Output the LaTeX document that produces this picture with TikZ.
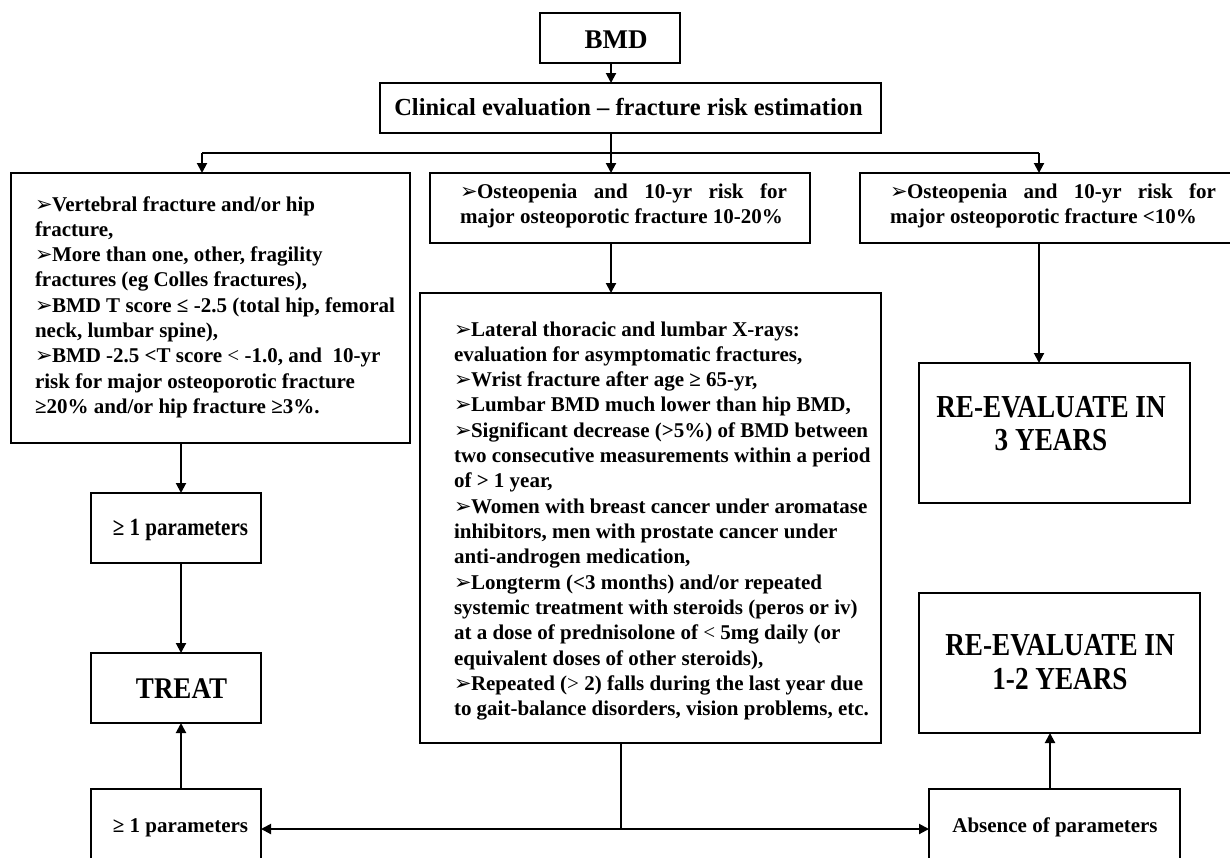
\documentclass[tikz,border=0pt]{standalone}
\usepackage{fontspec}
\setmainfont{Liberation Serif}
\newfontfamily\dejavu{DejaVu Sans}
\newfontfamily\condA[FakeStretch=0.85]{Liberation Serif}
\newfontfamily\condB[FakeStretch=0.9]{Liberation Serif}
\usetikzlibrary{arrows.meta}
\newcommand\bul{\makebox[17pt][l]{\raisebox{0pt}{\dejavu\fontsize{21}{21}\selectfont ➢}}}
\newcommand\boxnode[5]{\node[box, minimum width={(#4-#2)*1pt}, minimum height={(#5-#3)*1pt}] (#1) at ({(#2+#4)/2},{(#3+#5)/2}) {};}
\begin{document}
\begin{tikzpicture}[x=1pt,y=-1pt,
  box/.style={draw, line width=2.5pt, inner sep=0pt, outer sep=0pt},
  txt/.style={inner sep=0pt, outer sep=0pt, font=\bfseries\fontsize{21}{25.33}\selectfont},
  ln/.style={line width=2pt},
  conn/.style={line width=2pt, -{Triangle[length=10pt,width=10pt]}}]
\fill[white] (0,0) rectangle (1230,857);
\useasboundingbox (0,0) rectangle (1230,857);

% boxes
\boxnode{bmd}{540}{13}{680}{63}
\boxnode{clin}{380}{83}{881}{133}
\boxnode{lbox}{11}{173}{410}{443}
\boxnode{mtop}{430}{173}{810}{243}
\boxnode{rtop}{860}{173}{1245}{243}
\boxnode{big}{420}{293}{881}{743}
\boxnode{p1}{91}{493}{261}{563}
\boxnode{treat}{91}{653}{261}{723}
\boxnode{p2}{91}{789}{261}{880}
\boxnode{re3}{919}{363}{1190}{503}
\boxnode{re12}{919}{593}{1200}{733}
\boxnode{abs}{929}{789}{1180}{880}

% texts
\node[txt, anchor=base, font=\bfseries\fontsize{27}{30}\selectfont] (bmdt) at (616,48) {BMD};
\node[txt, anchor=base, font=\bfseries\fontsize{24.5}{28}\selectfont] (clint) at (628.5,115) {Clinical evaluation – fracture risk estimation};

\node[txt, anchor=base west] (ltxt) at (35,211) {\parbox[t]{380pt}{\raggedright
\bul Vertebral fracture and/or hip\\
fracture,\\
\bul More than one, other, fragility\\
fractures (eg Colles fractures),\\
\bul BMD T score ≤ -2.5 (total hip, femoral\\
neck, lumbar spine),\\
\bul BMD -2.5 <T score {\mdseries <} -1.0, and~ 10-yr\\
risk for major osteoporotic fracture\\
≥20\% and/or hip fracture ≥3\%.}};

\node[txt, anchor=base west] (mtopt) at (460,198) {\parbox[t]{330pt}{\raggedright
\makebox[327pt][s]{\bul Osteopenia and 10-yr risk for}\\
major osteoporotic fracture 10-20\%}};

\node[txt, anchor=base west] (rtopt) at (890,198) {\parbox[t]{330pt}{\raggedright
\makebox[326pt][s]{\bul Osteopenia and 10-yr risk for}\\
major osteoporotic fracture <10\%}};

\node[txt, anchor=base west] (bigt) at (454,336) {\parbox[t]{425pt}{\raggedright
\bul Lateral thoracic and lumbar X-rays:\\
evaluation for asymptomatic fractures,\\
\bul Wrist fracture after age ≥ 65-yr,\\
\bul Lumbar BMD much lower than hip BMD,\\
\bul Significant decrease (>5\%) of BMD between\\
two consecutive measurements within a period\\
of > 1 year,\\
\bul Women with breast cancer under aromatase\\
inhibitors, men with prostate cancer under\\
anti-androgen medication,\\
\bul Longterm (<3 months) and/or repeated\\
systemic treatment with steroids (peros or iv)\\
at a dose of prednisolone of {\mdseries <} 5mg daily (or\\
equivalent doses of other steroids),\\
\bul Repeated ({\mdseries >} 2) falls during the last year due\\
to gait-balance disorders, vision problems, etc.}};

\node[txt, anchor=base, font=\condA\bfseries\fontsize{24.7}{28}\selectfont] (p1t) at (180.5,535) {≥ 1 parameters};
\node[txt, anchor=base, font=\condB\bfseries\fontsize{30}{34}\selectfont] (treatt) at (181.5,698) {TREAT};
\node[txt, anchor=base] (p2t) at (180.5,832) {≥ 1 parameters};
\node[txt, anchor=base] (abst) at (1055,832) {Absence of parameters};

\node[txt, anchor=base, font=\condA\bfseries\fontsize{32}{33}\selectfont] (re3t) at (1051,417)
  {\parbox[t]{300pt}{\centering RE-EVALUATE IN\\3 YEARS}};
\node[txt, anchor=base, font=\condA\bfseries\fontsize{32}{34}\selectfont] (re12t) at (1060,655)
  {\parbox[t]{300pt}{\centering RE-EVALUATE IN\\1-2 YEARS}};

% connectors
\coordinate (c1) at (611,153);
\coordinate (jl) at (202,153);
\coordinate (jr) at (1039,153);
\coordinate (cl) at (181,443);
\coordinate (cb) at (621,829);
\coordinate (cr) at (1050,789);

\draw[conn] (bmd.south -| c1) -- (clin.north -| c1);
\draw[ln] (clin.south -| c1) -- (c1);
\draw[ln] (jl) -- (jr);
\draw[conn] (jl) -- (jl |- lbox.north);
\draw[conn] (c1) -- (c1 |- mtop.north);
\draw[conn] (jr) -- (jr |- rtop.north);
\draw[conn] (mtop.south -| c1) -- (big.north -| c1);
\draw[conn] (rtop.south -| jr) -- (re3.north -| jr);
\draw[conn] (lbox.south -| cl) -- (p1.north -| cl);
\draw[conn] (p1.south -| cl) -- (treat.north -| cl);
\draw[conn] (p2.north -| cl) -- (treat.south -| cl);
\draw[ln] (big.south -| cb) -- (cb);
\draw[conn] (cb) -- (cb -| p2.east);
\draw[conn] (cb) -- (cb -| abs.west);
\draw[conn] (abs.north -| cr) -- (re12.south -| cr);
\end{tikzpicture}
\end{document}
